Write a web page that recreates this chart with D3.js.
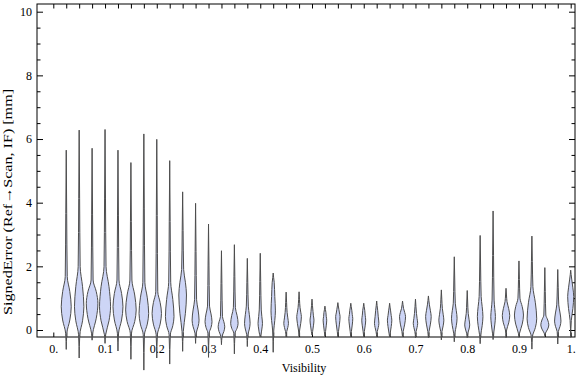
<!DOCTYPE html>
<html>
<head>
<meta charset="utf-8">
<script src="https://cdn.jsdelivr.net/npm/d3@7"></script>
<style>
  body { margin: 0; background: #fff; }
  svg { display: block; }
  text { font-family: "Liberation Serif", "DejaVu Serif", serif; }
</style>
</head>
<body>
<div id="chart"></div>
<script>
// violin chart: signed error per visibility bin

var visibility = d3.range(1, 41).map(function (i) { return i / 40; });

// top / bottom of each violin (tail ends)
var errMax = [5.65, 6.28, 5.71, 6.30, 5.65, 5.26, 6.16, 5.99, 5.32, 4.34,
              3.98, 3.33, 2.49, 2.68, 2.25, 2.41, 1.79, 1.19, 1.20, 0.97,
              0.75, 0.86, 0.84, 0.84, 0.91, 0.84, 0.91, 0.97, 1.07, 1.26,
              2.30, 1.24, 2.97, 3.74, 1.31, 2.17, 2.95, 1.96, 1.90, 1.88];
var errMin = [-0.61, -0.88, -0.32, -0.42, -0.66, -0.92, -1.26, -0.88, -1.07, -0.67,
              -0.42, -0.86, -0.46, -0.75, -0.52, -0.22, -0.70, -0.22, -0.20, -0.16,
              -0.20, -0.22, -0.22, -0.22, -0.22, -0.22, -0.22, -0.24, -0.24, -0.31,
              -0.37, -0.24, -0.43, -0.30, -0.24, -0.23, -0.60, -0.18, -0.44, -0.23];
// where the body is widest, and how wide (relative density)
var errMode = [0.73, 0.73, 0.84, 0.73, 0.73, 0.63, 0.52, 0.52, 0.42, 1.10,
               0.31, 0.26, 0.10, 0.21, 0.21, 0.21, 0.60, 0.21, 0.42, 0.31,
               0.31, 0.42, 0.36, 0.31, 0.21, 0.31, 0.42, 0.21, 0.42, 0.31,
               0.37, 0.16, 0.42, 0.42, 0.45, 0.47, 0.35, 0.16, 0.28, 1.05];
var density = [0.86, 0.81, 1.00, 0.95, 0.86, 0.91, 0.83, 0.81, 0.74, 0.66,
               0.60, 0.60, 0.57, 0.64, 0.48, 0.38, 0.38, 0.40, 0.40, 0.34,
               0.31, 0.38, 0.34, 0.34, 0.38, 0.38, 0.52, 0.38, 0.48, 0.43,
               0.48, 0.43, 0.48, 0.40, 0.64, 0.78, 0.83, 0.69, 0.55, 0.52];
// lower and upper end of the body, before it thins into the tails
var bodyLo = [-0.10, -0.15, -0.10, -0.15, -0.10, -0.10, -0.15, -0.15, -0.15, -0.05,
              -0.10, -0.10, -0.20, -0.10, -0.15, -0.15, 0.00, -0.05, 0.00, -0.05,
              -0.05, -0.05, -0.05, -0.05, -0.05, -0.10, -0.05, -0.05, -0.05, -0.05,
              -0.10, -0.10, -0.15, -0.10, 0.00, -0.10, -0.20, -0.10, -0.05, 0.30];
var bodyHi = [1.68, 1.99, 1.57, 1.99, 1.57, 1.57, 1.50, 1.20, 1.50, 1.90,
              0.95, 0.75, 0.42, 0.70, 0.75, 0.63, 1.50, 0.55, 0.70, 0.58,
              0.55, 0.65, 0.62, 0.62, 0.62, 0.60, 0.68, 0.52, 0.79, 0.68,
              0.84, 0.52, 1.05, 0.94, 0.89, 1.00, 1.36, 0.47, 0.79, 1.60];

var yTicksMajor = [0, 2, 4, 6, 8, 10];
var yTicksMinor = d3.range(0, 10.5, 0.5).filter(function (v) { return v % 2 !== 0; });
var xTickLabels = ["0.", "0.1", "0.2", "0.3", "0.4", "0.5", "0.6", "0.7", "0.8", "0.9", "1."];

var width = 576, height = 377;
var frame = { left: 37, right: 575, top: 4, bottom: 337 };

var svg = d3.select("#chart").append("svg")
    .attr("width", width)
    .attr("height", height);

var x = d3.scaleLinear().domain([0, 1]).range([53.3, 570.7]);
var y = d3.scaleLinear().domain([0, 10]).range([330, 11.7]);
var w = d3.scaleLinear().domain([0, 1]).range([0, 5.8]);

////////////////////////////////////////
// frame and ticks

svg.append("rect")
    .attr("x", frame.left)
    .attr("y", frame.top)
    .attr("width", frame.right - frame.left)
    .attr("height", frame.bottom - frame.top)
    .style("fill", "none")
    .style("stroke", "#000")
    .style("stroke-width", 1);

var xTickVals = d3.range(0, 41).map(function (i) { return i / 40; });

function styleAxis(g) {
    g.select(".domain").remove();
    g.selectAll(".tick line").style("stroke", "#000").style("stroke-width", 1);
    g.selectAll(".tick text")
        .style("font-family", "'Liberation Serif', serif")
        .style("font-size", "12px")
        .style("fill", "#000");
}

svg.append("g")
    .attr("transform", "translate(0," + frame.bottom + ")")
    .call(d3.axisBottom(x).tickValues(xTickVals).tickSize(-4.5).tickPadding(7)
        .tickFormat(function (d, i) { return i % 4 === 0 ? xTickLabels[i / 4] : ""; }))
    .call(styleAxis);

svg.append("g")
    .attr("transform", "translate(0," + frame.top + ")")
    .call(d3.axisTop(x).tickValues(xTickVals).tickSize(-4.5).tickFormat(""))
    .call(styleAxis);

svg.append("g")
    .attr("transform", "translate(" + frame.left + ",0)")
    .call(d3.axisLeft(y).tickValues(yTicksMajor).tickSize(-6).tickPadding(5)
        .tickFormat(d3.format("d")))
    .call(styleAxis);

svg.append("g")
    .attr("transform", "translate(" + frame.left + ",0)")
    .call(d3.axisLeft(y).tickValues(yTicksMinor).tickSize(-3.5).tickFormat(""))
    .call(styleAxis);

svg.append("g")
    .attr("transform", "translate(" + frame.right + ",0)")
    .call(d3.axisRight(y).tickValues(yTicksMajor).tickSize(-6).tickFormat(""))
    .call(styleAxis);

svg.append("g")
    .attr("transform", "translate(" + frame.right + ",0)")
    .call(d3.axisRight(y).tickValues(yTicksMinor).tickSize(-3.5).tickFormat(""))
    .call(styleAxis);

////////////////////////////////////////
// violins

var violin = d3.area()
    .curve(d3.curveMonotoneY)
    .y(function (d) { return y(d[0]); })
    .x0(function (d) { return -d[1]; })
    .x1(function (d) { return d[1]; });

visibility.forEach(function (v, i) {
    var hw = w(density[i]);
    var mx = errMax[i], mn = errMin[i], md = errMode[i];
    var hi = bodyHi[i], lo = bodyLo[i];
    // outline from top tail down to bottom tail: [value, half width px]
    var profile = [
        [mx, 0],
        [(mx + hi) / 2, 0.45],
        [hi, 1.0],
        [(hi + md) / 2, 0.72 * hw],
        [md, hw],
        [(md + lo) / 2, 0.72 * hw],
        [lo, 0.6],
        [mn, 0]
    ];
    svg.append("path")
        .attr("transform", "translate(" + x(v) + ",0)")
        .attr("d", violin(profile))
        .style("fill", "#cdd5f6")
        .style("stroke", "#4d4d4d")
        .style("stroke-width", 1)
        .style("stroke-linejoin", "round");
});

////////////////////////////////////////
// axis titles

svg.append("text")
    .attr("x", 304)
    .attr("y", 372)
    .style("font-size", "12px")
    .style("text-anchor", "middle")
    .text("Visibility");

svg.append("text")
    .attr("transform", "translate(12,202) rotate(-90)")
    .attr("textLength", 226)
    .attr("lengthAdjust", "spacingAndGlyphs")
    .style("font-size", "13px")
    .style("text-anchor", "middle")
    .text("SignedError (Ref\u2192Scan, IF) [mm]");
</script>
</body>
</html>
